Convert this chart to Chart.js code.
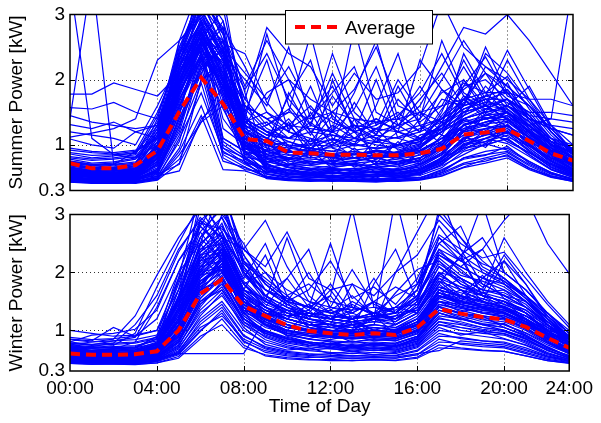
<!DOCTYPE html>
<html>
<head>
<meta charset="utf-8">
<script src="https://cdn.jsdelivr.net/npm/chart.js@4.4.1/dist/chart.umd.min.js"></script>
<style>
  html, body { margin: 0; padding: 0; background: #fff; }
  #wrap { position: relative; width: 601px; height: 423px; background: #fff; overflow: hidden; }
  canvas { position: absolute; left: 0; }
</style>
</head>
<body>
<div id="wrap">
  <canvas id="summer" width="601" height="205" style="top:0"></canvas>
  <canvas id="winter" width="601" height="223" style="top:200px"></canvas>
</div>
<script>
// ---------- data ----------
const hours = [0,1,2,3,4,5,6,7,8,9,10,11,12,13,14,15,16,17,18,19,20,21,22,23];
const xTickValues = [0,4,8,12,16,20,23];
const xTickLabels = ['00:00','04:00','08:00','12:00','16:00','20:00','24:00'];
const yTickValues = [0.3,1,2,3];
const yTickLabels = ['0.3','1','2','3'];
const xGridValues = [4,8,12,16,20];
const yGridValues = [1,2];

const summerAverage = [0.72,0.64,0.64,0.69,0.91,1.51,2.03,1.63,1.09,1.06,0.88,0.87,0.85,0.85,0.84,0.84,0.87,0.94,1.16,1.19,1.24,1.06,0.87,0.76];
const winterAverage = [0.60,0.58,0.58,0.59,0.64,1.00,1.63,1.88,1.42,1.25,1.09,0.99,0.95,0.92,0.95,0.92,1.05,1.37,1.29,1.23,1.19,1.06,0.87,0.70];

// summer households
const s01 = [0.55,0.50,0.48,0.52,0.70,1.60,2.40,1.10,0.90,0.70,0.60,0.58,0.55,0.60,0.58,0.55,0.62,0.80,1.10,1.20,1.30,1.00,0.75,0.60];
const s02 = [0.48,0.45,0.44,0.46,0.60,1.30,2.10,2.60,1.20,0.65,0.55,0.52,0.50,0.50,0.52,0.50,0.55,0.70,0.95,1.05,1.15,0.90,0.65,0.52];
const s03 = [0.62,0.58,0.55,0.60,0.95,2.00,2.80,2.20,1.00,0.80,0.75,0.70,0.72,0.68,0.70,0.75,0.80,0.95,1.30,1.40,1.50,1.20,0.90,0.70];
const s04 = [0.45,0.42,0.42,0.43,0.50,1.10,1.80,0.90,0.70,0.55,0.50,0.48,0.47,0.46,0.48,0.47,0.50,0.60,0.80,0.85,0.90,0.70,0.55,0.47];
const s05 = [0.70,0.65,0.62,0.68,1.20,2.30,3.20,2.50,1.30,1.10,0.90,1.50,0.95,0.85,0.80,0.90,1.00,1.20,1.60,1.70,1.80,1.40,1.00,0.80];
const s06 = [0.52,0.48,0.47,0.50,0.65,1.50,2.60,3.10,1.50,0.80,0.65,0.60,0.58,0.55,0.60,0.58,0.62,0.75,1.00,1.10,1.25,0.95,0.70,0.58];
const s07 = [0.58,0.54,0.52,0.55,0.80,1.80,2.50,1.70,0.85,0.90,1.80,1.20,0.75,0.70,1.10,0.80,0.70,0.85,1.20,1.30,1.20,1.00,0.80,0.62];
const s08 = [0.47,0.44,0.43,0.45,0.55,0.70,2.00,2.30,1.10,0.60,0.52,0.50,0.49,0.50,0.48,0.50,0.53,0.65,0.90,1.00,1.10,0.85,0.62,0.50];
const s09 = [0.66,0.60,0.58,0.62,1.00,2.20,2.90,2.00,1.20,1.00,0.85,0.80,2.00,1.20,0.85,0.80,0.90,1.10,1.40,1.50,1.60,1.30,0.95,0.75];
const s10 = [0.50,0.47,0.46,0.48,0.58,1.40,2.20,0.95,0.80,0.62,0.56,0.54,0.52,0.53,0.55,0.52,0.56,0.70,1.00,1.05,1.20,0.90,0.66,0.54];
const s11 = [0.60,0.56,0.54,0.57,0.85,1.90,2.70,2.40,1.40,1.20,0.95,0.90,0.85,0.80,0.90,0.85,0.95,1.30,1.70,1.40,1.50,1.20,0.90,0.68];
const s12 = [0.44,0.42,0.41,0.42,0.48,0.90,1.60,0.75,0.65,0.50,0.46,0.45,0.44,0.45,0.44,0.45,0.47,0.55,0.70,0.75,0.85,0.65,0.52,0.45];
const s13 = [0.56,0.52,0.50,0.53,0.75,1.70,2.30,2.00,1.00,0.75,0.65,0.62,0.60,0.62,0.65,0.60,0.66,0.85,1.20,1.25,1.35,1.10,0.80,0.62];
const s14 = [0.73,0.68,0.65,0.70,1.40,2.50,3.30,2.70,1.60,1.40,1.20,1.10,1.00,1.30,1.10,1.00,1.10,1.40,1.90,2.00,1.70,1.50,1.10,0.85];
const s15 = [0.49,0.46,0.45,0.47,0.62,1.50,2.10,0.88,0.75,0.58,0.53,0.51,0.50,0.52,0.51,0.53,0.58,0.72,0.95,1.00,1.10,0.85,0.63,0.52];
const s16 = [0.54,0.50,0.49,0.51,0.70,1.60,2.40,2.90,1.80,0.70,0.60,0.58,0.56,0.58,0.57,0.56,0.60,0.78,1.05,1.15,1.30,1.00,0.72,0.57];
const s17 = [0.64,0.60,0.57,0.60,0.90,2.10,2.60,1.90,1.10,0.90,0.80,0.75,0.70,0.75,0.80,0.72,0.80,1.00,1.50,1.60,1.40,1.20,0.90,0.72];
const s18 = [0.46,0.43,0.43,0.44,0.52,0.60,1.40,1.70,0.90,0.55,0.48,0.47,0.46,0.47,0.46,0.47,0.50,0.58,0.80,0.90,0.95,0.75,0.57,0.48];
const s19 = [0.58,0.53,0.51,0.54,0.78,1.75,2.55,2.10,0.95,0.78,0.68,0.64,0.62,0.64,0.66,0.62,0.68,0.88,1.25,1.35,1.45,1.15,0.85,0.64];
const s20 = [0.51,0.48,0.47,0.49,0.60,1.35,2.15,2.50,1.30,0.66,0.58,0.55,0.53,0.55,0.54,0.55,0.58,0.74,1.02,1.10,1.18,0.92,0.68,0.55];
const s21 = [0.68,0.63,0.60,0.64,1.10,2.40,3.10,2.30,1.20,1.00,0.90,0.85,0.80,0.85,0.90,0.85,0.95,1.25,1.65,1.75,1.85,1.45,1.05,0.82];
const s22 = [0.43,0.41,0.41,0.42,0.47,0.85,1.35,1.90,0.80,0.52,0.47,0.45,0.45,0.44,0.45,0.44,0.46,0.52,0.65,0.72,0.80,0.62,0.50,0.44];
const s23 = [0.75,0.70,0.68,0.72,1.30,2.60,3.00,2.40,2.00,1.60,2.50,1.40,1.80,2.20,1.30,1.50,1.20,1.70,1.60,2.20,1.90,1.60,1.20,0.90];
const s24 = [0.60,0.55,0.53,0.56,0.90,2.00,2.70,2.20,1.50,2.30,1.20,1.90,1.10,1.00,1.60,2.40,1.30,1.00,1.40,1.30,1.50,1.20,0.95,0.70];
const s25 = [0.65,0.62,0.60,0.63,1.00,2.10,2.90,2.60,1.70,1.30,1.50,2.70,1.40,1.20,2.00,1.10,1.00,1.50,2.30,1.70,1.50,1.30,1.00,0.75];
const s26 = [0.55,0.52,0.50,0.52,0.80,1.80,2.40,1.90,1.30,1.80,2.00,1.30,2.40,1.50,1.20,1.30,1.70,2.10,1.60,2.50,1.80,1.40,1.00,0.70];
const s27 = [0.70,0.66,0.64,0.68,1.20,2.40,3.20,2.80,2.20,1.50,1.30,1.60,1.20,2.80,1.50,1.30,1.40,2.60,1.80,1.60,2.30,1.70,1.20,0.85];
const s28 = [0.58,0.55,0.54,0.56,0.85,1.90,2.60,2.00,1.40,2.70,1.60,1.20,1.50,1.20,1.30,2.00,1.50,1.20,2.00,1.50,1.40,1.10,0.90,0.68];
const s29 = [0.62,0.58,0.57,0.60,0.95,2.00,2.80,2.30,1.60,1.40,1.10,1.30,1.20,1.80,2.60,1.40,1.90,1.40,1.70,2.10,1.60,1.90,1.30,0.90];
const s30 = [0.52,0.50,0.49,0.51,0.75,1.60,2.30,2.60,1.20,1.10,1.40,1.00,1.30,1.10,1.40,1.20,1.10,1.30,2.40,1.80,1.50,1.20,0.95,0.70];
const s31 = [1.78,1.78,1.95,1.85,1.75,2.10,2.80,2.30,1.60,1.40,1.50,1.40,1.50,1.40,1.35,1.40,1.50,1.60,1.70,1.80,1.80,1.70,1.70,1.60];
const s32 = [1.57,1.55,1.65,1.50,1.40,2.00,2.60,2.10,1.40,1.20,1.30,1.25,1.20,1.30,1.25,1.20,1.30,1.40,1.60,1.70,1.70,1.50,1.50,1.45];
const s33 = [1.31,1.25,1.35,1.20,1.10,1.80,2.50,1.90,1.20,1.00,0.95,1.00,0.98,1.10,1.00,0.95,1.05,1.20,1.40,1.50,1.60,1.40,1.30,1.25];
const s34 = [1.09,1.00,0.95,1.20,1.30,2.20,2.70,1.80,1.00,0.85,0.80,0.90,0.85,0.80,0.85,0.82,0.90,1.10,1.35,1.45,1.50,1.25,1.10,1.00];
const s35 = [1.20,1.15,1.10,1.00,1.60,2.30,2.90,2.10,1.30,1.10,1.00,0.95,1.20,1.00,0.95,1.00,1.10,1.30,1.50,1.60,1.70,1.40,1.25,1.15];
const s36 = [3.50,1.10,0.85,0.80,1.00,2.00,2.60,1.80,1.00,0.80,0.70,0.75,0.70,0.72,0.75,0.70,0.80,1.00,1.30,1.40,1.50,1.20,0.90,0.75];
const s37 = [1.40,3.60,0.70,0.90,1.10,2.20,3.10,2.40,1.30,1.10,0.90,0.85,0.80,0.85,0.90,0.85,0.95,1.20,1.50,1.60,1.70,1.30,1.00,0.80];
const s38 = [0.65,0.60,0.58,0.62,0.95,2.00,2.60,2.00,1.20,1.00,0.90,0.85,1.00,1.20,1.10,1.30,1.60,2.20,2.80,2.70,3.00,2.60,2.10,1.60];
const s39 = [0.60,0.56,0.55,0.58,0.88,1.90,2.50,1.90,1.10,0.90,0.80,0.78,0.76,0.80,0.85,1.00,1.40,1.80,2.00,1.60,1.40,1.30,1.40,3.50];
const s40 = [0.70,0.66,0.64,0.66,1.10,2.30,3.00,2.40,1.70,2.80,2.40,2.20,1.60,2.10,1.70,1.80,2.20,3.20,2.50,2.20,2.00,1.70,1.30,1.00];
const s41 = [0.52,0.47,0.50,0.46,0.62,1.20,2.30,1.00,0.78,0.58,0.66,0.52,0.61,0.55,0.49,0.63,0.58,0.76,0.98,1.22,1.05,0.88,0.70,0.55];
const s42 = [0.44,0.49,0.43,0.47,0.53,1.45,2.75,2.05,0.95,0.72,0.55,0.61,0.50,0.57,0.64,0.52,0.70,0.92,1.15,0.96,1.32,1.02,0.76,0.58];
const s43 = [0.61,0.55,0.59,0.53,0.74,1.85,3.40,2.60,1.15,0.82,0.93,0.70,0.85,0.66,0.78,0.90,0.74,1.05,1.45,1.62,1.38,1.18,0.86,0.66];
const s44 = [0.47,0.43,0.46,0.44,0.49,0.95,1.95,0.85,0.66,0.51,0.48,0.55,0.47,0.50,0.46,0.49,0.56,0.68,0.85,1.02,0.92,0.74,0.58,0.48];
const s45 = [0.57,0.62,0.54,0.58,0.88,2.05,2.90,2.35,1.45,0.95,0.76,1.10,0.72,0.88,0.70,0.82,0.95,1.35,1.20,1.55,1.70,1.25,0.92,0.70];
const s46 = [0.50,0.46,0.48,0.47,0.57,1.25,2.45,2.80,1.05,0.64,0.57,0.53,0.59,0.51,0.56,0.60,0.54,0.82,1.08,1.25,1.12,0.98,0.74,0.56];
const s47 = [0.66,0.59,0.63,0.57,1.05,2.15,3.10,1.95,1.25,1.35,0.98,0.88,1.05,0.80,0.92,0.85,1.15,1.25,1.75,1.50,1.95,1.35,1.02,0.78];
const s48 = [0.45,0.42,0.44,0.42,0.52,1.05,2.25,1.75,0.72,0.50,0.47,0.46,0.48,0.45,0.47,0.50,0.49,0.62,0.78,0.84,0.98,0.72,0.56,0.47];
const s49 = [0.54,0.50,0.51,0.49,0.68,1.55,2.65,2.25,0.88,0.68,0.62,0.58,0.66,0.70,0.59,0.64,0.72,0.95,1.30,1.15,1.42,1.05,0.78,0.60];
const s50 = [0.59,0.54,0.56,0.55,0.82,1.70,2.35,1.55,0.92,1.05,0.72,0.68,0.75,1.40,0.72,0.66,0.78,1.15,1.05,1.48,1.28,1.12,0.84,0.63];
const s51 = [0.48,0.45,0.47,0.45,0.56,1.15,2.00,2.20,0.82,0.56,0.51,0.49,0.52,0.48,0.53,0.51,0.57,0.74,0.92,1.10,1.02,0.82,0.62,0.50];
const s52 = [0.63,0.58,0.60,0.62,0.98,2.35,3.30,2.75,1.55,1.20,1.05,0.95,0.90,1.00,1.25,0.92,1.02,1.45,1.85,2.10,1.80,1.40,1.05,0.80];
const s53 = [0.46,0.44,0.45,0.43,0.50,0.78,1.45,0.62,0.60,0.49,0.46,0.47,0.45,0.47,0.45,0.46,0.48,0.57,0.72,0.80,0.88,0.68,0.53,0.46];
const s54 = [0.55,0.51,0.52,0.50,0.72,1.65,2.50,1.85,0.98,0.74,0.68,0.92,0.64,0.60,0.72,1.05,0.70,0.88,1.32,1.40,1.25,1.08,0.82,0.61];
const s55 = [0.69,0.64,0.66,0.63,1.15,2.45,3.25,2.45,1.35,1.15,1.30,0.95,1.10,0.92,0.96,1.20,1.05,1.55,1.95,1.80,2.05,1.55,1.15,0.86];
const s56 = [0.51,0.47,0.49,0.48,0.63,1.40,2.20,2.45,1.15,0.62,0.56,0.54,0.57,0.55,0.52,0.56,0.60,0.78,1.12,1.02,1.22,0.95,0.70,0.55];
const s57 = [0.60,0.56,0.57,0.55,0.86,1.95,2.75,2.15,1.05,0.85,0.78,0.72,0.76,0.74,0.82,0.70,0.86,1.05,1.55,1.70,1.48,1.22,0.92,0.70];
const s58 = [0.43,0.42,0.42,0.41,0.46,0.72,1.35,1.60,0.74,0.48,0.45,0.44,0.46,0.44,0.43,0.45,0.47,0.53,0.66,0.78,0.83,0.64,0.51,0.44];
const s59 = [0.57,0.53,0.55,0.52,0.79,1.80,2.60,1.75,1.02,0.92,1.35,0.82,0.70,0.95,0.68,0.74,0.80,0.98,1.38,1.28,1.52,1.18,0.88,0.66];
const s60 = [0.49,0.46,0.47,0.46,0.59,1.30,2.35,1.90,0.86,0.60,0.54,0.57,0.52,0.55,0.58,0.53,0.62,0.80,0.96,1.18,1.08,0.88,0.66,0.53];
const s61 = [0.62,0.57,0.58,0.60,0.92,2.10,2.85,2.45,1.85,2.40,1.70,1.30,2.10,1.40,1.15,1.70,1.35,1.60,2.20,1.65,1.85,1.45,1.05,0.78];
const s62 = [0.56,0.52,0.54,0.53,0.84,1.75,2.55,2.05,1.25,1.05,1.75,2.30,1.20,1.55,2.20,1.30,1.10,1.25,1.45,1.90,1.55,1.25,0.96,0.70];
const s63 = [0.68,0.63,0.64,0.65,1.15,2.30,3.05,2.55,2.40,1.65,1.25,1.45,1.90,1.25,1.40,1.20,2.30,1.85,1.60,2.40,2.10,1.65,1.20,0.88];
const s64 = [0.53,0.50,0.51,0.52,0.78,1.70,2.40,2.30,1.60,1.25,1.10,1.35,1.05,1.65,1.15,1.90,1.30,1.15,1.70,1.45,1.60,1.35,0.98,0.72];
const s65 = [0.74,0.69,0.70,0.71,1.25,2.50,3.15,2.70,1.90,2.60,2.00,1.70,1.50,1.85,2.50,1.60,1.45,2.00,2.60,2.10,1.90,1.60,1.25,0.92];
const s66 = [0.60,0.55,0.57,0.58,0.90,1.95,2.70,2.10,1.35,1.50,1.20,1.05,1.45,1.10,1.25,1.45,1.80,2.40,1.75,1.55,1.70,1.45,1.10,0.80];
const s67 = [0.64,0.60,0.61,0.62,1.00,2.05,2.95,2.50,2.10,1.70,2.20,1.55,1.35,1.20,1.35,1.25,1.50,1.35,1.90,2.35,1.75,1.60,1.20,0.86];
const s68 = [0.58,0.54,0.55,0.57,0.86,1.85,2.60,1.95,1.20,1.30,1.55,1.15,1.75,1.30,1.05,1.40,1.20,1.85,1.50,1.75,2.45,1.85,1.25,0.90];
const s69 = [0.95,0.90,0.88,0.92,1.10,1.90,2.60,1.95,1.05,0.90,0.84,0.88,0.82,0.86,0.80,0.84,0.92,1.10,1.30,1.40,1.45,1.20,1.05,0.95];
const s70 = [1.45,1.35,1.30,1.25,1.30,2.00,2.70,2.20,1.35,1.15,1.10,1.20,1.15,1.05,1.15,1.10,1.20,1.35,1.55,1.65,1.60,1.45,1.40,1.35];
const s71 = [0.82,0.78,0.80,0.85,1.45,2.40,2.85,2.00,1.10,0.95,0.88,0.92,0.86,0.90,0.85,0.88,0.98,1.20,1.40,1.50,1.55,1.30,1.00,0.88];
const s72 = [1.12,1.18,1.25,1.40,2.30,2.60,2.95,2.35,1.40,1.20,1.10,1.05,1.15,1.10,1.05,1.12,1.25,1.40,1.60,1.75,1.65,1.40,1.25,1.15];
const s73 = [0.60,0.56,0.57,0.59,0.95,2.60,3.50,3.30,1.40,0.85,0.70,0.68,0.65,0.70,0.66,0.68,0.75,0.95,1.30,1.45,1.50,1.20,0.90,0.68];
const s74 = [0.55,0.52,0.53,0.54,0.80,2.40,3.40,2.90,1.20,0.78,0.66,0.62,0.64,0.60,0.63,0.61,0.70,0.88,1.22,1.35,1.40,1.12,0.84,0.62];
const s75 = [0.50,0.47,0.48,0.49,0.70,2.20,3.60,2.70,1.00,0.68,0.60,0.57,0.58,0.56,0.59,0.57,0.64,0.80,1.10,1.25,1.30,1.02,0.76,0.57];
const s76 = [0.78,0.72,0.74,0.80,1.20,2.10,2.70,1.40,0.95,0.86,0.92,0.80,0.84,0.90,0.78,0.86,0.92,1.05,1.30,1.42,1.38,1.15,0.95,0.82];
const s77 = [0.86,0.80,0.83,0.88,1.35,2.25,2.80,1.10,0.90,0.82,0.78,0.85,0.80,0.76,0.82,0.80,0.88,1.10,1.25,1.35,1.45,1.22,1.00,0.90];
const s78 = [0.72,0.68,0.70,0.74,1.05,1.95,2.45,0.95,0.72,0.66,0.70,0.64,0.68,0.72,0.66,0.70,0.76,0.95,1.15,1.25,1.30,1.05,0.86,0.76];
const s79 = [0.92,0.88,0.86,0.90,1.50,2.30,2.90,1.25,1.00,0.92,0.88,0.95,0.90,0.86,0.92,0.88,0.96,1.20,1.40,1.55,1.50,1.28,1.05,0.95];
const s80 = [0.68,0.64,0.66,0.70,0.98,1.85,2.35,0.80,0.62,0.58,0.62,0.56,0.60,0.64,0.58,0.62,0.66,0.85,1.05,1.15,1.20,0.98,0.80,0.70];
const s81 = [0.80,0.76,0.78,0.82,1.25,2.15,2.65,1.60,1.10,0.98,1.05,0.92,0.96,1.02,0.94,0.98,1.05,1.25,1.45,1.60,1.55,1.30,1.05,0.85];
const s82 = [0.75,0.70,0.72,0.78,1.15,2.00,2.55,1.05,0.82,0.74,0.78,0.72,0.76,0.80,0.74,0.78,0.84,1.02,1.22,1.32,1.36,1.12,0.92,0.80];
const s83 = [0.88,0.84,0.85,0.87,1.30,2.20,2.75,1.80,1.20,1.05,0.98,1.02,1.08,0.98,1.04,1.00,1.08,1.30,1.55,1.65,1.60,1.35,1.10,0.92];

// winter households
const w01 = [0.55,0.52,0.52,0.53,0.58,0.90,1.60,2.00,1.40,1.10,0.95,0.85,0.80,0.78,0.80,0.78,0.90,1.40,1.30,1.20,1.10,0.95,0.75,0.60];
const w02 = [0.48,0.46,0.45,0.46,0.50,0.70,1.20,1.50,1.00,0.80,0.70,0.65,0.62,0.60,0.62,0.60,0.70,1.00,0.95,0.90,0.85,0.75,0.60,0.50];
const w03 = [0.65,0.62,0.61,0.62,0.70,1.20,2.10,2.50,1.80,1.50,1.30,1.15,1.10,1.05,1.10,1.05,1.20,1.70,1.60,1.50,1.40,1.25,1.00,0.80];
const w04 = [0.52,0.50,0.49,0.50,0.55,0.85,1.50,1.70,1.20,1.00,0.85,0.78,0.72,0.70,0.72,0.70,0.82,1.20,1.15,1.05,1.00,0.88,0.70,0.56];
const w05 = [0.70,0.68,0.66,0.67,0.80,1.60,2.60,3.20,2.20,1.80,1.50,1.30,1.25,1.20,1.25,1.20,1.40,2.00,1.90,1.70,1.60,1.40,1.10,0.85];
const w06 = [0.45,0.44,0.43,0.44,0.47,0.60,1.00,1.30,0.80,0.65,0.58,0.55,0.52,0.52,0.53,0.52,0.58,0.80,0.78,0.75,0.72,0.62,0.52,0.46];
const w07 = [0.58,0.56,0.55,0.56,0.62,1.00,1.80,2.20,1.50,1.30,1.10,1.00,0.95,0.90,0.95,0.90,1.05,1.50,1.40,1.30,1.25,1.10,0.85,0.66];
const w08 = [0.50,0.48,0.47,0.48,0.52,0.75,1.30,1.60,1.10,0.90,0.78,0.72,0.68,0.66,0.68,0.66,0.76,1.10,1.05,0.98,0.95,0.82,0.66,0.53];
const w09 = [0.62,0.60,0.58,0.60,0.66,1.10,1.90,2.40,1.60,1.40,1.20,1.10,1.00,0.98,1.00,0.98,1.10,1.60,1.50,1.40,1.30,1.15,0.92,0.72];
const w10 = [0.47,0.45,0.45,0.46,0.49,0.65,1.10,1.40,0.90,0.72,0.64,0.60,0.57,0.56,0.58,0.56,0.64,0.90,0.88,0.82,0.80,0.70,0.56,0.48];
const w11 = [0.55,0.54,0.52,0.53,0.60,0.95,1.70,1.90,1.30,1.20,1.00,0.95,0.90,0.86,0.88,0.85,0.98,1.45,1.35,1.25,1.20,1.05,0.80,0.62];
const w12 = [0.75,0.72,0.70,0.72,0.85,1.80,2.80,3.40,2.40,2.00,1.70,1.50,1.40,1.35,1.40,1.35,1.60,2.30,2.10,1.90,1.80,1.60,1.25,0.95];
const w13 = [0.43,0.42,0.42,0.42,0.44,0.55,0.90,1.10,0.70,0.58,0.53,0.50,0.48,0.48,0.49,0.48,0.52,0.70,0.68,0.65,0.64,0.56,0.48,0.44];
const w14 = [0.60,0.58,0.57,0.58,0.64,1.05,1.85,2.10,1.45,1.25,1.05,0.98,0.92,0.88,0.92,0.88,1.00,1.45,1.38,1.30,1.22,1.08,0.86,0.68];
const w15 = [0.53,0.51,0.50,0.51,0.56,0.80,1.45,1.75,1.15,0.95,0.82,0.75,0.70,0.68,0.70,0.68,0.80,1.15,1.10,1.02,0.98,0.85,0.68,0.57];
const w16 = [0.68,0.65,0.64,0.66,0.75,1.50,2.40,2.70,2.00,1.60,1.90,1.40,1.20,1.50,1.30,1.20,1.50,2.40,2.00,1.80,1.60,1.50,1.20,0.90];
const w17 = [0.57,0.55,0.54,0.55,0.60,1.20,2.20,2.60,1.70,2.30,1.40,1.20,1.60,1.10,1.20,1.40,1.30,2.00,1.70,1.50,1.40,1.20,0.95,0.72];
const w18 = [0.63,0.60,0.60,0.61,0.70,1.30,2.00,3.00,2.50,1.80,1.50,2.00,1.40,1.30,1.50,1.30,1.60,2.60,2.20,2.40,1.80,1.50,1.20,0.90];
const w19 = [0.50,0.48,0.48,0.49,0.54,0.90,1.70,2.30,1.50,1.20,1.60,1.20,1.10,1.80,1.20,1.10,1.30,1.90,1.60,1.40,1.50,1.20,0.90,0.65];
const w20 = [0.72,0.70,0.69,0.70,0.90,2.00,2.90,2.60,2.10,1.70,1.50,1.40,2.50,1.40,1.30,1.60,1.80,2.80,2.30,2.60,2.00,1.70,1.30,1.00];
const w21 = [0.60,0.58,0.58,0.59,0.66,1.20,2.30,1.90,1.30,1.50,2.60,1.60,1.30,1.20,1.30,1.20,1.40,2.10,1.80,1.60,1.50,1.30,1.00,0.75];
const w22 = [0.55,0.53,0.52,0.54,0.62,1.10,2.00,2.50,1.80,1.40,1.20,1.10,1.00,1.00,1.80,2.40,1.50,2.00,1.70,1.50,2.20,1.60,1.10,0.80];
const w23 = [0.66,0.64,0.62,0.63,0.72,1.40,2.50,2.80,2.20,1.90,1.60,1.80,1.50,1.40,1.30,1.40,1.70,3.00,2.60,2.10,1.90,1.60,1.30,0.95];
const w24 = [0.52,0.50,0.50,0.51,0.56,0.95,1.80,2.10,1.40,1.10,1.00,1.30,1.70,1.20,1.00,0.95,1.10,1.70,1.90,1.50,1.30,1.10,0.85,0.62];
const w25 = [0.58,0.56,0.55,0.57,0.63,1.10,2.10,2.40,1.60,1.30,1.20,1.10,1.10,1.20,1.50,1.10,1.30,1.80,1.50,1.90,2.20,1.80,1.20,0.85];
const w26 = [1.00,0.95,0.90,0.92,1.00,1.90,2.60,2.20,1.50,1.30,1.20,1.10,1.05,1.10,1.05,1.00,1.20,1.60,1.50,1.40,1.35,1.20,1.00,0.90];
const w27 = [0.85,0.82,1.05,0.90,1.20,2.00,2.50,2.00,1.40,1.20,1.10,1.00,0.95,0.95,1.00,0.95,1.10,1.50,1.40,1.30,1.25,1.10,0.95,0.85];
const w28 = [0.75,0.80,0.85,1.25,1.95,2.60,3.10,2.50,1.70,1.40,1.20,1.10,1.05,1.00,1.05,1.00,1.20,1.70,1.60,1.50,1.40,1.25,1.05,0.85];
const w29 = [0.70,0.72,0.78,1.10,1.60,2.40,2.90,2.30,1.60,1.30,1.15,1.05,1.00,0.98,1.00,0.98,1.15,1.60,1.50,1.40,1.35,1.20,0.98,0.80];
const w30 = [0.65,0.62,0.68,0.80,1.40,2.20,2.70,2.20,1.50,1.25,1.10,1.00,0.95,0.92,0.95,0.92,1.10,1.50,1.45,1.35,1.30,1.15,0.92,0.75];
const w31 = [0.50,0.49,0.48,0.49,0.52,0.60,0.60,0.60,0.60,1.20,0.90,0.80,0.75,0.72,0.75,0.72,0.85,1.30,1.20,1.10,1.00,0.85,0.65,0.52];
const w32 = [0.60,0.58,0.57,0.58,0.66,1.40,3.30,2.60,1.80,1.40,1.30,1.20,1.10,1.05,1.10,2.00,2.70,3.40,2.40,1.80,1.60,1.40,1.10,0.80];
const w33 = [0.55,0.53,0.52,0.53,0.60,1.20,2.50,3.50,2.20,1.60,1.30,1.20,1.10,1.00,1.20,3.30,1.80,2.40,2.20,2.00,1.80,1.50,1.10,0.75];
const w34 = [0.62,0.60,0.59,0.60,0.70,1.60,2.80,2.40,1.80,2.00,1.50,1.40,1.60,3.10,1.40,1.30,1.80,2.50,2.20,3.20,2.00,1.70,1.30,0.95];
const w35 = [0.58,0.56,0.55,0.56,0.64,1.30,2.30,2.60,2.40,2.90,2.10,1.50,1.30,1.20,1.30,1.20,1.40,2.20,1.90,1.70,2.60,2.00,1.50,1.10];
const w36 = [0.65,0.62,0.61,0.62,0.72,1.50,2.50,2.80,2.00,1.60,1.40,1.30,1.20,1.15,1.20,1.30,1.60,2.30,2.10,2.40,2.90,3.30,2.50,1.98];
const w37 = [0.52,0.50,0.50,0.51,0.57,1.00,1.90,2.20,1.50,1.20,1.05,1.00,0.95,0.95,1.00,0.95,1.10,1.80,2.30,1.60,1.40,1.20,0.90,0.65];
const w38 = [0.48,0.47,0.46,0.47,0.52,0.80,1.50,1.80,1.20,0.95,0.85,0.80,0.76,0.74,0.76,0.74,0.85,1.25,1.20,1.10,1.05,0.92,0.72,0.55];
const w39 = [0.56,0.55,0.54,0.55,0.62,1.00,1.75,2.00,1.40,1.15,1.00,0.92,0.88,0.85,0.88,0.85,0.98,1.40,1.30,1.25,1.20,1.05,0.82,0.62];
const w40 = [0.46,0.45,0.44,0.45,0.48,0.62,1.05,1.25,0.85,0.68,0.60,0.57,0.55,0.54,0.55,0.54,0.60,0.65,0.82,0.78,0.75,0.65,0.54,0.47];
const w41 = [0.51,0.47,0.50,0.46,0.52,0.82,1.55,1.95,1.25,0.98,0.86,0.74,0.82,0.70,0.76,0.72,0.88,1.30,1.18,1.25,1.05,0.90,0.70,0.55];
const w42 = [0.44,0.48,0.43,0.46,0.48,0.68,1.25,1.65,1.05,0.76,0.66,0.70,0.60,0.64,0.58,0.62,0.72,1.05,0.92,0.98,0.86,0.74,0.58,0.48];
const w43 = [0.62,0.57,0.60,0.55,0.66,1.15,2.25,2.70,1.70,1.55,1.25,1.35,1.05,1.15,1.00,1.10,1.30,1.85,1.55,1.65,1.45,1.30,1.00,0.78];
const w44 = [0.47,0.44,0.46,0.43,0.49,0.72,1.40,1.85,1.15,0.88,0.75,0.68,0.74,0.64,0.70,0.66,0.78,1.15,1.05,1.00,0.94,0.80,0.62,0.50];
const w45 = [0.58,0.62,0.55,0.59,0.64,1.25,2.05,2.35,1.55,1.20,1.35,1.05,0.98,1.10,0.92,0.96,1.15,1.65,1.45,1.35,1.40,1.15,0.90,0.68];
const w46 = [0.50,0.46,0.49,0.47,0.53,0.88,1.65,2.15,1.30,0.95,0.82,0.78,0.70,0.76,0.68,0.74,0.86,1.35,1.22,1.10,1.12,0.92,0.70,0.54];
const w47 = [0.66,0.60,0.64,0.58,0.72,1.45,2.45,2.95,2.05,1.70,1.45,1.25,1.35,1.20,1.30,1.15,1.45,2.10,1.85,1.65,1.70,1.40,1.10,0.84];
const w48 = [0.45,0.42,0.44,0.42,0.46,0.58,0.98,1.35,0.82,0.62,0.56,0.53,0.55,0.51,0.54,0.52,0.58,0.85,0.76,0.72,0.70,0.60,0.50,0.45];
const w49 = [0.54,0.50,0.52,0.49,0.57,0.96,1.75,2.25,1.45,1.15,0.96,0.90,0.84,0.92,0.82,0.86,1.00,1.50,1.32,1.40,1.22,1.02,0.80,0.60];
const w50 = [0.59,0.54,0.57,0.55,0.62,1.08,1.95,2.05,1.35,1.25,1.05,1.15,0.92,0.98,1.25,0.94,1.08,1.55,1.70,1.38,1.30,1.12,0.88,0.66];
const w51 = [0.48,0.45,0.47,0.45,0.50,0.74,1.35,1.70,1.10,0.84,0.72,0.66,0.69,0.63,0.66,0.64,0.74,1.10,1.00,0.95,0.92,0.78,0.60,0.50];
const w52 = [0.63,0.58,0.61,0.60,0.70,1.35,2.35,2.85,1.95,1.60,1.40,1.25,1.20,1.30,1.15,1.25,1.35,1.95,1.75,1.60,1.50,1.35,1.05,0.80];
const w53 = [0.46,0.44,0.45,0.43,0.47,0.63,1.15,1.45,0.92,0.70,0.62,0.58,0.60,0.56,0.58,0.57,0.66,0.95,0.86,0.82,0.78,0.67,0.55,0.47];
const w54 = [0.55,0.51,0.53,0.50,0.58,0.92,1.70,2.05,1.35,1.10,0.92,0.86,0.95,0.80,0.86,0.82,0.94,1.40,1.28,1.18,1.15,1.00,0.78,0.60];
const w55 = [0.69,0.64,0.67,0.63,0.78,1.70,2.70,3.10,2.15,1.85,1.55,1.40,1.30,1.45,1.25,1.30,1.55,2.25,1.95,1.85,1.70,1.50,1.15,0.88];
const w56 = [0.51,0.47,0.49,0.48,0.54,0.84,1.55,1.90,1.25,1.00,0.88,0.80,0.76,0.82,0.74,0.78,0.90,1.30,1.20,1.12,1.05,0.90,0.70,0.55];
const w57 = [0.60,0.56,0.58,0.55,0.65,1.15,2.00,2.30,1.55,1.35,1.15,1.05,1.00,0.95,1.05,1.00,1.15,1.65,1.50,1.42,1.35,1.18,0.90,0.68];
const w58 = [0.43,0.42,0.42,0.41,0.44,0.52,0.85,1.20,0.75,0.56,0.51,0.49,0.50,0.48,0.50,0.49,0.54,0.75,0.70,0.66,0.64,0.56,0.48,0.43];
const w59 = [0.57,0.53,0.55,0.52,0.61,1.00,1.85,2.15,1.45,1.25,1.50,1.05,0.95,1.20,0.92,0.98,1.10,1.70,1.45,1.55,1.38,1.15,0.86,0.64];
const w60 = [0.49,0.46,0.48,0.46,0.51,0.78,1.45,1.80,1.20,0.92,0.80,0.74,0.78,0.72,0.76,0.72,0.82,1.22,1.12,1.05,1.00,0.86,0.66,0.52];
const w61 = [0.62,0.58,0.59,0.60,0.68,1.35,2.20,2.55,1.90,2.50,1.60,1.35,1.80,1.30,1.50,1.75,1.55,2.30,2.05,1.75,1.90,1.55,1.15,0.85];
const w62 = [0.56,0.52,0.54,0.53,0.60,1.10,1.95,2.40,1.65,1.40,1.90,2.40,1.35,1.60,1.25,1.40,1.45,1.95,2.25,1.60,1.50,1.30,1.00,0.72];
const w63 = [0.68,0.63,0.65,0.64,0.76,1.55,2.60,2.95,2.30,1.80,1.50,1.70,2.20,1.55,1.75,1.45,1.90,2.65,2.40,2.15,2.00,1.70,1.30,0.95];
const w64 = [0.53,0.50,0.51,0.52,0.58,1.00,1.80,2.15,1.50,1.30,1.20,1.45,1.20,1.35,1.90,1.30,1.35,1.75,1.60,1.95,1.55,1.30,0.95,0.70];
const w65 = [0.74,0.69,0.71,0.70,0.85,1.85,2.85,2.75,2.40,2.10,2.70,1.90,1.70,1.80,1.60,2.00,2.30,2.90,2.50,2.25,2.35,1.90,1.45,1.05];
const w66 = [0.60,0.55,0.57,0.58,0.66,1.20,2.15,2.45,1.70,1.50,1.35,1.25,1.40,2.05,1.45,1.30,1.60,2.15,1.90,1.70,1.65,1.45,1.10,0.80];
const w67 = [0.64,0.60,0.61,0.62,0.72,1.40,2.35,2.65,2.00,1.70,1.55,1.40,1.30,1.40,1.30,1.40,1.70,2.50,2.80,2.00,1.85,1.60,1.25,0.90];
const w68 = [0.58,0.54,0.55,0.57,0.64,1.15,2.05,2.35,1.60,1.35,1.25,1.30,1.15,1.25,1.20,1.65,2.05,2.20,1.80,1.65,2.30,1.80,1.25,0.88];
const w69 = [0.88,0.84,0.86,0.90,1.00,1.70,2.40,2.50,1.65,1.35,1.20,1.10,1.05,1.00,1.05,1.02,1.20,1.65,1.55,1.45,1.40,1.25,1.05,0.92];
const w70 = [0.80,0.92,0.95,1.02,1.35,2.20,2.80,2.45,1.70,1.40,1.25,1.15,1.10,1.05,1.10,1.05,1.25,1.75,1.65,1.55,1.45,1.30,1.08,0.90];
const w71 = [0.78,0.75,0.82,0.88,1.50,2.35,2.95,2.60,1.80,1.45,1.30,1.20,1.15,1.10,1.15,1.10,1.30,1.85,1.70,1.60,1.50,1.35,1.10,0.88];
const w72 = [0.72,0.70,0.74,0.95,1.75,2.50,3.20,2.70,1.85,1.50,1.35,1.25,1.20,1.15,1.20,1.15,1.35,1.90,1.75,1.65,1.55,1.40,1.15,0.90];
const w73 = [0.62,0.59,0.60,0.61,0.75,1.90,3.40,3.30,2.10,1.55,1.35,1.25,1.20,1.15,1.20,1.25,1.55,2.35,2.10,1.90,1.75,1.50,1.15,0.85];
const w74 = [0.58,0.55,0.56,0.57,0.68,1.70,3.10,3.50,2.30,1.70,1.45,1.30,1.25,1.20,1.25,1.30,1.70,2.60,2.30,2.05,1.85,1.55,1.20,0.86];
const w75 = [0.55,0.52,0.53,0.54,0.64,1.55,2.90,3.20,2.00,1.50,1.30,1.20,1.15,1.10,1.15,1.20,1.50,3.10,2.60,2.20,1.90,1.60,1.20,0.84];
const w76 = [0.70,0.66,0.68,0.70,0.78,1.30,2.20,2.30,1.45,1.15,1.00,0.95,0.92,0.98,0.90,0.95,1.10,1.60,1.45,1.38,1.30,1.15,0.95,0.78];
const w77 = [0.78,0.74,0.76,0.78,0.86,1.45,2.00,2.10,1.30,1.05,0.95,0.90,0.88,0.86,0.90,0.88,1.02,1.50,1.40,1.32,1.28,1.12,0.94,0.80];
const w78 = [0.66,0.62,0.64,0.66,0.74,1.15,1.85,2.05,1.35,1.08,0.92,0.85,0.82,0.80,0.84,0.82,0.96,1.42,1.30,1.22,1.18,1.02,0.84,0.70];
const w79 = [0.84,0.80,0.82,0.84,0.92,1.55,2.30,2.40,1.55,1.25,1.10,1.02,0.98,0.96,1.00,0.98,1.15,1.70,1.58,1.48,1.42,1.25,1.02,0.86];
const w80 = [0.62,0.60,0.61,0.62,0.68,1.05,1.70,1.85,1.20,0.98,0.86,0.80,0.76,0.74,0.78,0.76,0.90,1.35,1.25,1.15,1.10,0.96,0.78,0.66];
const w81 = [0.74,0.70,0.72,0.74,0.82,1.35,2.10,2.20,1.40,1.12,0.98,0.92,0.90,0.88,0.92,0.90,1.05,1.55,1.42,1.35,1.30,1.15,0.96,0.80];
const w82 = [0.68,0.65,0.66,0.68,0.76,1.25,1.95,2.25,1.50,1.20,1.05,0.98,0.94,0.92,0.96,0.94,1.08,1.58,1.48,1.40,1.32,1.15,0.92,0.74];
const w83 = [0.80,0.76,0.78,0.80,0.88,1.50,2.25,2.35,1.50,1.18,1.05,1.00,0.96,0.94,0.98,0.96,1.12,1.65,1.52,1.44,1.38,1.20,0.98,0.84];

const summerLines = [s01,s02,s03,s04,s05,s06,s07,s08,s09,s10,s11,s12,s13,s14,s15,s16,s17,s18,s19,s20,
                     s21,s22,s23,s24,s25,s26,s27,s28,s29,s30,s31,s32,s33,s34,s35,s36,s37,s38,s39,s40,
                     s41,s42,s43,s44,s45,s46,s47,s48,s49,s50,s51,s52,s53,s54,s55,s56,s57,s58,s59,s60,
                     s61,s62,s63,s64,s65,s66,s67,s68,s69,s70,s71,s72,s73,s74,s75,s76,s77,s78,s79,s80,
                     s81,s82,s83];
const winterLines = [w01,w02,w03,w04,w05,w06,w07,w08,w09,w10,w11,w12,w13,w14,w15,w16,w17,w18,w19,w20,
                     w21,w22,w23,w24,w25,w26,w27,w28,w29,w30,w31,w32,w33,w34,w35,w36,w37,w38,w39,w40,
                     w41,w42,w43,w44,w45,w46,w47,w48,w49,w50,w51,w52,w53,w54,w55,w56,w57,w58,w59,w60,
                     w61,w62,w63,w64,w65,w66,w67,w68,w69,w70,w71,w72,w73,w74,w75,w76,w77,w78,w79,w80,
                     w81,w82,w83];

// ---------- styling ----------
Chart.defaults.font.family = "'Liberation Sans', Arial, Helvetica, sans-serif";
Chart.defaults.font.size = 19;
Chart.defaults.color = '#000';

const BLUE = '#0000ff';
const RED = '#ff0000';

function buildDatasets(lines, avg) {
  const ds = [{
    label: 'Average', data: avg, borderColor: RED, borderWidth: 4,
    borderDash: [10, 6], borderCapStyle: 'butt', pointRadius: 0, fill: false, tension: 0, order: 0
  }];
  lines.forEach((l, i) => ds.push({
    label: 'household ' + (i + 1), data: l, borderColor: BLUE, borderWidth: 1.2,
    pointRadius: 0, fill: false, tension: 0, order: 1
  }));
  return ds;
}

const framePlugin = {
  id: 'matlabFrame',
  beforeDatasetsDraw(chart) {
    const { ctx, chartArea: a, scales: { x, y } } = chart;
    ctx.save();
    ctx.fillStyle = '#fff';
    ctx.fillRect(a.left, a.top, a.right - a.left, a.bottom - a.top);
    ctx.strokeStyle = '#333';
    ctx.lineWidth = 1;
    ctx.setLineDash([1, 3]);
    ctx.beginPath();
    xGridValues.forEach(v => {
      const p = Math.round(x.getPixelForValue(v)) + 0.5;
      ctx.moveTo(p, a.top); ctx.lineTo(p, a.bottom);
    });
    yGridValues.forEach(v => {
      const p = Math.round(y.getPixelForValue(v)) + 0.5;
      ctx.moveTo(a.left, p); ctx.lineTo(a.right, p);
    });
    ctx.stroke();
    ctx.restore();
  },
  afterDatasetsDraw(chart) {
    const { ctx, chartArea: a, scales: { x, y } } = chart;
    ctx.save();
    ctx.strokeStyle = '#000';
    ctx.lineWidth = 1;
    ctx.beginPath();
    const tl = 5;
    xGridValues.forEach(v => {
      const p = Math.round(x.getPixelForValue(v)) + 0.5;
      ctx.moveTo(p, a.bottom); ctx.lineTo(p, a.bottom - tl);
      ctx.moveTo(p, a.top); ctx.lineTo(p, a.top + tl);
    });
    yGridValues.forEach(v => {
      const p = Math.round(y.getPixelForValue(v)) + 0.5;
      ctx.moveTo(a.left, p); ctx.lineTo(a.left + tl, p);
      ctx.moveTo(a.right, p); ctx.lineTo(a.right - tl, p);
    });
    ctx.stroke();
    ctx.lineWidth = 1.5;
    ctx.strokeRect(a.left, a.top, a.right - a.left, a.bottom - a.top);
    ctx.restore();
  }
};

const legendPlugin = {
  id: 'insideLegend',
  afterDraw(chart) {
    const { ctx } = chart;
    ctx.save();
    const bx = 285.5, by = 10.5, bw = 147, bh = 33.5;
    ctx.fillStyle = '#fff';
    ctx.fillRect(bx, by, bw, bh);
    ctx.strokeStyle = '#000';
    ctx.lineWidth = 1;
    ctx.strokeRect(bx, by, bw, bh);
    ctx.strokeStyle = RED;
    ctx.lineWidth = 4;
    ctx.setLineDash([10, 6]);
    ctx.beginPath();
    ctx.moveTo(295, 27); ctx.lineTo(337, 27);
    ctx.stroke();
    ctx.setLineDash([]);
    ctx.fillStyle = '#000';
    ctx.font = "19px 'Liberation Sans', Arial, sans-serif";
    ctx.textBaseline = 'alphabetic';
    ctx.textAlign = 'left';
    ctx.fillText(chart.data.datasets[0].label, 345, 34);
    ctx.restore();
  }
};

function yScale(title) {
  return {
    type: 'linear', min: 0.3, max: 3,
    afterBuildTicks: s => { s.ticks = yTickValues.map(v => ({ value: v })); },
    afterFit: s => { s.width = 70; },
    grid: { display: false, drawTicks: false },
    border: { display: false },
    ticks: { padding: 5, autoSkip: false, font: { size: 19, lineHeight: 1 },
             callback: (v, i) => yTickLabels[i] },
    title: { display: true, text: title, font: { size: 19, lineHeight: 1 }, padding: { top: 7, bottom: 0 } }
  };
}

new Chart(document.getElementById('summer'), {
  type: 'line',
  data: { labels: hours, datasets: buildDatasets(summerLines, summerAverage) },
  options: {
    responsive: false, animation: false, events: [],
    layout: { padding: { top: 10, bottom: 14, left: 0, right: 28 } },
    plugins: { legend: { display: false }, tooltip: { enabled: false } },
    scales: {
      x: { type: 'linear', min: 0, max: 23, display: false },
      y: yScale('Summer Power [kW]')
    }
  },
  plugins: [framePlugin, legendPlugin]
});

new Chart(document.getElementById('winter'), {
  type: 'line',
  data: { labels: hours, datasets: buildDatasets(winterLines, winterAverage) },
  options: {
    responsive: false, animation: false, events: [],
    layout: { padding: { top: 11.5, bottom: 0, left: 0, right: 28 } },
    plugins: { legend: { display: false }, tooltip: { enabled: false } },
    scales: {
      x: {
        type: 'linear', min: 0, max: 23,
        afterBuildTicks: s => { s.ticks = xTickValues.map(v => ({ value: v })); },
        afterFit: s => { s.height = 52; },
        grid: { display: false, drawTicks: false },
        border: { display: false },
        ticks: { padding: 8, autoSkip: false, maxRotation: 0, font: { size: 19, lineHeight: 1 },
                 callback: (v, i) => xTickLabels[i] },
        title: { display: true, text: 'Time of Day', font: { size: 19, lineHeight: 1 }, padding: { top: 0, bottom: 7 } }
      },
      y: yScale('Winter Power [kW]')
    }
  },
  plugins: [framePlugin]
});
</script>
</body>
</html>
